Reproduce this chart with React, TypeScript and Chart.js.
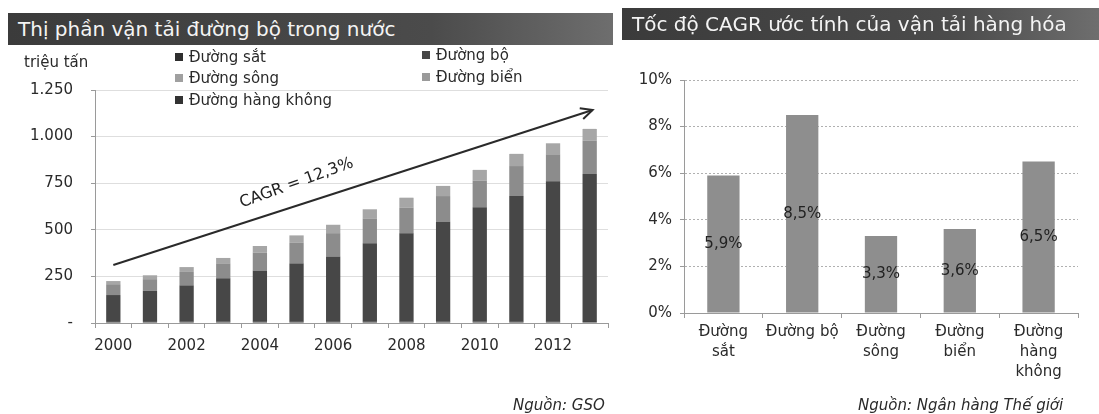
import React, { useEffect, useRef } from "react";
import { Chart, registerables } from "chart.js";

Chart.register(...registerables);

const FONT = "'DejaVu Sans', Verdana, sans-serif";

// Left chart: freight volume by mode (million tonnes)
const years = ["2000", "2001", "2002", "2003", "2004", "2005", "2006", "2007", "2008", "2009", "2010", "2011", "2012", "2013"];
const rail = [6, 6, 7, 8, 9, 9, 9, 9, 8, 8, 8, 7, 7, 6];
const road = [144, 167, 195, 232, 272, 311, 348, 419, 473, 535, 613, 674, 753, 793];
const river = [58, 62, 72, 80, 97, 110, 125, 133, 137, 138, 142, 161, 145, 180];
const sea = [17, 21, 26, 29, 35, 40, 45, 49, 54, 54, 58, 65, 59, 62];
const air = [0.1, 0.1, 0.1, 0.1, 0.1, 0.1, 0.1, 0.1, 0.2, 0.2, 0.2, 0.2, 0.2, 0.2];
const leftTickMax = 1250;
const leftTickStep = 250;

// CAGR annotation (data units: category index, value)
const arrowFrom = [0, 311];
const arrowTo = [13.08, 1143];
const cagrText = "CAGR = 12,3%";
const cagrTextPos = [5, 750];

// Right chart: estimated CAGR by mode (%)
const modes = [["Đường", "sắt"], ["Đường bộ"], ["Đường", "sông"], ["Đường", "biển"], ["Đường", "hàng", "không"]];
const cagrValues = [5.9, 8.5, 3.3, 3.6, 6.5];
const rightTickMax = 10;
const rightTickStep = 2;

const legendItems = [
  { label: "Đường sắt", color: "#2f2f2f" },
  { label: "Đường bộ", color: "#474747" },
  { label: "Đường sông", color: "#a0a0a0" },
  { label: "Đường biển", color: "#9a9a9a" },
  { label: "Đường hàng không", color: "#333333" },
];

const fmtThousands = (v: number) => String(v).replace(/\B(?=(\d{3})+(?!\d))/g, ".");

const arrowPlugin = {
  id: "cagrArrow",
  afterDatasetsDraw(chart: any) {
    const { ctx, scales } = chart;
    const x = scales.x, y = scales.y;
    const x1 = x.getPixelForValue(arrowFrom[0]);
    const y1 = y.getPixelForValue(arrowFrom[1]);
    const x2 = x.getPixelForValue(arrowTo[0]);
    const y2 = y.getPixelForValue(arrowTo[1]);
    ctx.save();
    ctx.strokeStyle = "#2a2a2a";
    ctx.lineWidth = 2;
    ctx.beginPath();
    ctx.moveTo(x1, y1);
    ctx.lineTo(x2, y2);
    ctx.stroke();
    const ang = Math.atan2(y2 - y1, x2 - x1);
    const hl = 13;
    ctx.beginPath();
    ctx.moveTo(x2 - hl * Math.cos(ang - 0.45), y2 - hl * Math.sin(ang - 0.45));
    ctx.lineTo(x2, y2);
    ctx.lineTo(x2 - hl * Math.cos(ang + 0.45), y2 - hl * Math.sin(ang + 0.45));
    ctx.stroke();
    const tx = x.getPixelForValue(cagrTextPos[0]);
    const ty = y.getPixelForValue(cagrTextPos[1]);
    ctx.translate(tx, ty);
    ctx.rotate(-20 * Math.PI / 180);
    ctx.fillStyle = "#222";
    ctx.font = `16px ${FONT}`;
    ctx.textAlign = "center";
    ctx.textBaseline = "middle";
    ctx.fillText(cagrText, 0, 0);
    ctx.restore();
  },
};

const barLabelPlugin = {
  id: "barLabels",
  afterDatasetsDraw(chart: any) {
    const { ctx } = chart;
    const meta = chart.getDatasetMeta(0);
    const data = chart.data.datasets[0].data as number[];
    ctx.save();
    ctx.fillStyle = "#222";
    ctx.font = `15px ${FONT}`;
    ctx.textAlign = "center";
    ctx.textBaseline = "middle";
    meta.data.forEach((el: any, i: number) => {
      const txt = data[i].toFixed(1).replace(".", ",") + "%";
      ctx.fillText(txt, el.x, (el.y + el.base) / 2);
    });
    ctx.restore();
  },
};

function LeftChart() {
  const ref = useRef<HTMLCanvasElement>(null);
  useEffect(() => {
    const seriesColors = ["#2f2f2f", "#474747", "#8c8c8c", "#a6a6a6", "#333333"];
    const series = [rail, road, river, sea, air];
    const chart = new Chart(ref.current!, {
      type: "bar",
      data: {
        labels: years,
        datasets: series.map((d, i) => ({
          label: legendItems[i].label,
          data: d,
          backgroundColor: seriesColors[i],
          borderWidth: 0,
          categoryPercentage: 1,
          barPercentage: 0.39,
        })),
      },
      options: {
        animation: false,
        responsive: false,
        layout: { padding: { top: 90, right: 7, left: 0, bottom: 0 } },
        plugins: { legend: { display: false }, tooltip: { enabled: false } },
        scales: {
          x: {
            stacked: true,
            grid: { display: true, drawOnChartArea: false, drawTicks: true, tickLength: 5, color: "#9a9a9a", offset: true },
            border: { color: "#9a9a9a" },
            ticks: {
              autoSkip: false,
              maxRotation: 0,
              minRotation: 0,
              padding: 9,
              color: "#2a2a2a",
              font: { family: FONT, size: 15 },
              callback: (_v: any, i: number) => (i % 2 === 0 ? years[i] : ""),
            },
            afterFit: (s: any) => { s.height = 91; },
          },
          y: {
            stacked: true,
            min: 0,
            max: leftTickMax,
            grid: { color: "#dedede", tickColor: "#9a9a9a", tickLength: 4 },
            border: { color: "#9a9a9a" },
            ticks: {
              stepSize: leftTickStep,
              padding: 18,
              color: "#2a2a2a",
              font: { family: FONT, size: 15 },
              callback: (v: any) => (Number(v) === 0 ? "-" : fmtThousands(Number(v))),
            },
            afterFit: (s: any) => { s.width = 95; },
          },
        },
      } as any,
      plugins: [arrowPlugin],
    });
    return () => chart.destroy();
  }, []);
  return <canvas ref={ref} width={615} height={414} style={{ position: "absolute", left: 0, top: 0, width: 615, height: 414 }} />;
}

function RightChart() {
  const ref = useRef<HTMLCanvasElement>(null);
  useEffect(() => {
    const chart = new Chart(ref.current!, {
      type: "bar",
      data: {
        labels: modes as any,
        datasets: [
          {
            label: "CAGR",
            data: cagrValues,
            backgroundColor: "#8e8e8e",
            borderWidth: 0,
            categoryPercentage: 1,
            barPercentage: 0.41,
          },
        ],
      },
      options: {
        animation: false,
        responsive: false,
        layout: { padding: { top: 80, right: 21, left: 0, bottom: 0 } },
        plugins: { legend: { display: false }, tooltip: { enabled: false } },
        scales: {
          x: {
            grid: { display: true, drawOnChartArea: false, drawTicks: true, tickLength: 5, color: "#9a9a9a", offset: true },
            border: { color: "#9a9a9a" },
            ticks: {
              autoSkip: false,
              maxRotation: 0,
              minRotation: 0,
              padding: 4,
              color: "#2a2a2a",
              font: { family: FONT, size: 15, lineHeight: 1.33 },
            },
            afterFit: (s: any) => { s.height = 101; },
          },
          y: {
            min: 0,
            max: rightTickMax,
            grid: { color: "#b0b0b0", tickColor: "#9a9a9a", tickLength: 4, tickBorderDash: [] } as any,
            border: { color: "#9a9a9a", dash: [2, 2] },
            ticks: {
              stepSize: rightTickStep,
              padding: 8,
              color: "#2a2a2a",
              font: { family: FONT, size: 15 },
              callback: (v: any) => `${v}%`,
            },
            afterFit: (s: any) => { s.width = 69; },
          },
        },
      } as any,
      plugins: [barLabelPlugin],
    });
    return () => chart.destroy();
  }, []);
  return <canvas ref={ref} width={484} height={414} style={{ position: "absolute", left: 615, top: 0, width: 484, height: 414 }} />;
}

const bandStyle: React.CSSProperties = {
  position: "absolute",
  height: 32,
  background: "linear-gradient(to right, #3b3b3b, #4b4b4b 70%, #6e6e6e)",
  color: "#f4f4f4",
  fontFamily: FONT,
  fontSize: 20,
  lineHeight: "32px",
  whiteSpace: "nowrap",
  overflow: "hidden",
  boxSizing: "border-box",
};

const textStyle: React.CSSProperties = {
  position: "absolute",
  fontFamily: FONT,
  fontSize: 15,
  color: "#2a2a2a",
  whiteSpace: "nowrap",
  lineHeight: "18px",
};

function LegendItem({ x, y, label, color }: { x: number; y: number; label: string; color: string }) {
  return (
    <div style={{ ...textStyle, left: x, top: y - 9 }}>
      <span style={{ display: "inline-block", width: 8, height: 8, background: color, marginRight: 6, verticalAlign: "middle", position: "relative", top: -1 }} />
      {label}
    </div>
  );
}

export default function App() {
  const legendPos = [
    [175, 57],
    [422, 55],
    [175, 78],
    [422, 77],
    [175, 100],
  ];
  return (
    <div style={{ position: "fixed", left: 0, top: 0, width: 1099, height: 414, background: "#fff", overflow: "hidden" }}>
      <LeftChart />
      <RightChart />
      <div style={{ ...bandStyle, left: 8, top: 13, width: 605, paddingLeft: 10 }}>Thị phần vận tải đường bộ trong nước</div>
      <div style={{ ...bandStyle, left: 622, top: 8, width: 477, paddingLeft: 10 }}>Tốc độ CAGR ước tính của vận tải hàng hóa</div>
      <div style={{ ...textStyle, left: 24, top: 53 }}>triệu tấn</div>
      {legendItems.map((l, i) => (
        <LegendItem key={l.label} x={legendPos[i][0]} y={legendPos[i][1]} label={l.label} color={l.color} />
      ))}
      <div style={{ ...textStyle, left: 513, top: 396, fontStyle: "italic" }}>Nguồn: GSO</div>
      <div style={{ ...textStyle, left: 858, top: 396, fontStyle: "italic" }}>Nguồn: Ngân hàng Thế giới</div>
    </div>
  );
}
